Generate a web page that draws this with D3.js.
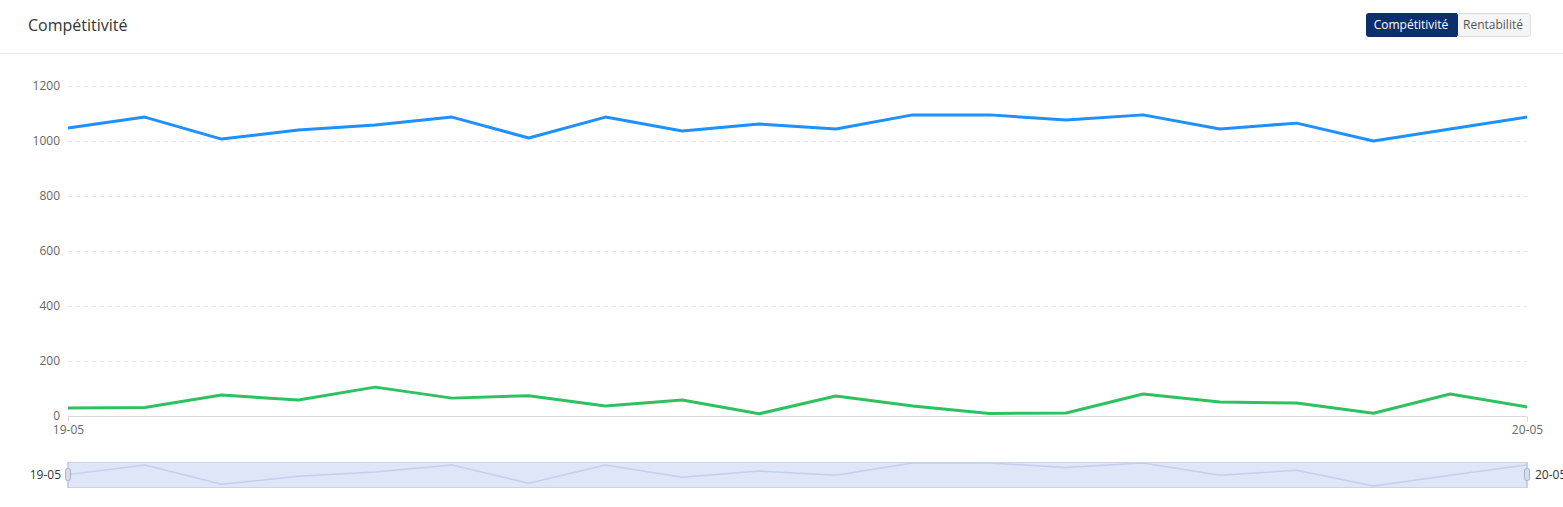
<!DOCTYPE html>
<html><head><meta charset="utf-8">
<script src="https://cdn.jsdelivr.net/npm/d3@7/dist/d3.min.js"></script>
<style>
body{margin:0;background:#fff;font-family:"Open Sans",sans-serif;}
svg{display:block;}
</style></head>
<body>
<svg id="chart" width="1563" height="507"></svg>
<script>
const categories = ["19-05-01","19-05-20","19-06-08","19-06-27","19-07-16","19-08-04","19-08-23","19-09-11","19-09-30","19-10-19","19-11-07","19-11-26","19-12-15","20-01-03","20-01-22","20-02-10","20-02-29","20-03-19","20-04-07","20-05-01"];
const xTickLabels = ["19-05","20-05"];
const blueValues = [1047,1087,1007,1040,1058,1087,1011,1087,1036,1062,1044,1095,1095,1076,1095,1044,1065,1000,1044,1087];
const greenValues = [29,31,76,58,105,65,74,36,58,8,73,36,9,11,80,51,47,10,80,33];
const yTicks = [0,200,400,600,800,1000,1200];
const buttons = ["Compétitivité","Rentabilité"];
const title = "Compétitivité";

const svg = d3.select("#chart");
const W = 1563;

// header
svg.append("text").attr("x",28).attr("y",31).attr("font-size",16).attr("fill","#333")
  .attr("font-family","Open Sans").text(title);
svg.append("line").attr("x1",0).attr("x2",W).attr("y1",53.5).attr("y2",53.5).attr("stroke","#e8e8e8");

// buttons
svg.append("rect").attr("x",1456.5).attr("y",13.5).attr("width",74).attr("height",23).attr("rx",3)
  .attr("fill","#f5f5f5").attr("stroke","#dcdcdc");
svg.append("rect").attr("x",1366).attr("y",13).attr("width",92).attr("height",24).attr("rx",3).attr("fill","#0b2f6b");
svg.append("rect").attr("x",1452).attr("y",13).attr("width",5).attr("height",24).attr("fill","#0b2f6b");
svg.append("text").attr("x",1411).attr("y",29).attr("text-anchor","middle").attr("font-size",12).attr("fill","#fff").text(buttons[0]);
svg.append("text").attr("x",1493).attr("y",29).attr("text-anchor","middle").attr("font-size",12).attr("fill","#555").text(buttons[1]);

// scales
const x = d3.scalePoint().domain(categories).range([68,1527]);
const y = d3.scaleLinear().domain([0,1200]).range([416,86]);
const fmt = d => d.slice(0,5);

// grid
svg.append("g").selectAll("line").data(yTicks.filter(d=>d>0)).join("line")
  .attr("x1",68).attr("x2",1527).attr("y1",d=>Math.round(y(d))+0.5).attr("y2",d=>Math.round(y(d))+0.5)
  .attr("stroke","#e6e6e6").attr("stroke-dasharray","4,4");

// y labels
svg.append("g").selectAll("text").data(yTicks).join("text")
  .attr("x",60).attr("y",d=>y(d)+4).attr("text-anchor","end").attr("font-size",12).attr("fill","#666").text(d=>d);

// x axis: first and last category only
const xAxis = d3.axisBottom(x).tickValues([categories[0], categories[categories.length-1]])
  .tickFormat(fmt).tickSize(5).tickPadding(4);
const gx = svg.append("g").attr("transform","translate(0,416.5)").call(xAxis);
gx.select(".domain").attr("stroke","#d9d9d9").attr("d","M68,0H1527");
gx.selectAll(".tick line").attr("stroke","#d9d9d9");
gx.selectAll("text").attr("font-size",12).attr("fill","#666").attr("font-family","Open Sans");

// lines
const line = d3.line().x((d,i)=>x(categories[i])).y(d=>y(d));
svg.append("path").datum(blueValues).attr("d",line).attr("fill","none").attr("stroke","#1e90ff").attr("stroke-width",3).attr("stroke-linejoin","round");
svg.append("path").datum(greenValues).attr("d",line).attr("fill","none").attr("stroke","#2dc25f").attr("stroke-width",3).attr("stroke-linejoin","round");

// slider
const sy = d3.scaleLinear().domain(d3.extent(blueValues)).range([486,463]);
svg.append("rect").attr("x",68).attr("y",462.5).attr("width",1459).attr("height",25).attr("fill","#dfe6f7").attr("stroke","#c9d3ef");
const sline = d3.line().x((d,i)=>x(categories[i])).y(d=>sy(d));
svg.append("path").datum(blueValues).attr("d",sline).attr("fill","none").attr("stroke","#c4cfec").attr("stroke-width",1.5);
[68,1527].forEach(px=>{
  svg.append("line").attr("x1",px).attr("x2",px).attr("y1",462).attr("y2",488).attr("stroke","#b4c0e0");
  svg.append("rect").attr("x",px-2.5).attr("y",468.5).attr("width",5).attr("height",12).attr("rx",2).attr("fill","#d6dcea").attr("stroke","#a9b3c8");
});
svg.append("text").attr("x",61).attr("y",479).attr("text-anchor","end").attr("font-size",12).attr("fill","#333").attr("font-family","Open Sans").text(fmt(categories[0]));
svg.append("text").attr("x",1535).attr("y",479).attr("text-anchor","start").attr("font-size",12).attr("fill","#333").attr("font-family","Open Sans").text(fmt(categories[categories.length-1]));
</script>
</body></html>
